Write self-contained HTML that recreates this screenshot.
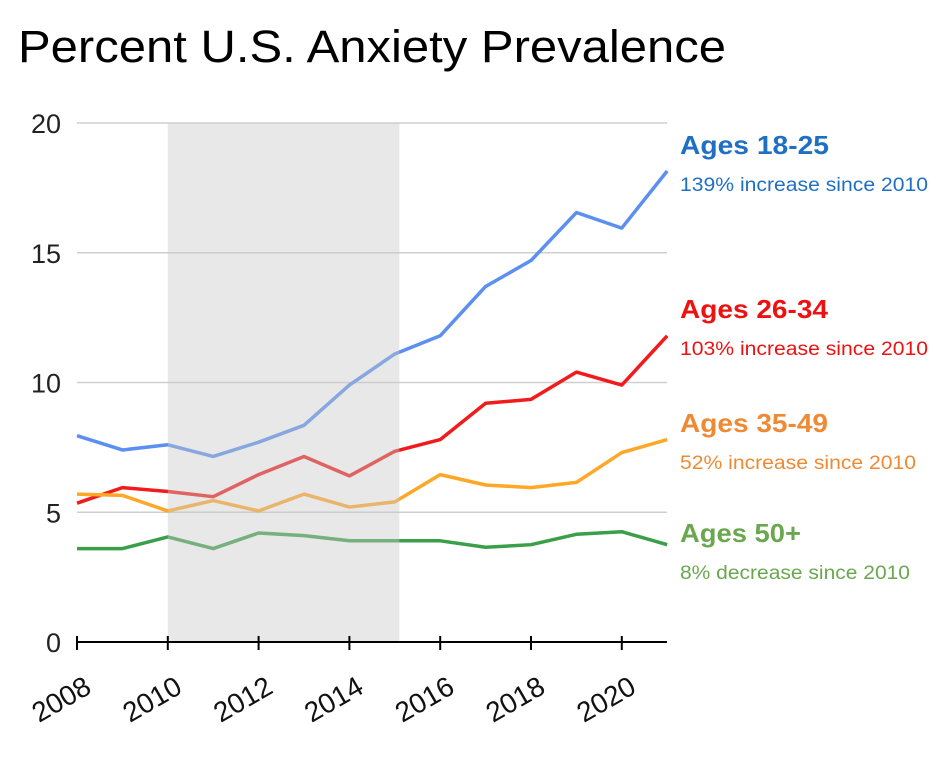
<!DOCTYPE html>
<html><head><meta charset="utf-8"><style>
body{margin:0;background:#fff;width:942px;height:754px;overflow:hidden;font-family:"Liberation Sans",sans-serif}
</style></head><body>
<svg id="chart" width="942" height="754" xmlns="http://www.w3.org/2000/svg">
<text x="18" y="62" font-size="45" textLength="708" lengthAdjust="spacingAndGlyphs" font-family="Liberation Sans, sans-serif" fill="#000">Percent U.S. Anxiety Prevalence</text>
<g id="grid"></g><g id="lines"></g><g id="shade"></g><g id="axes"></g><g id="legend"></g>
</svg>
<script>
const years=[2008,2009,2010,2011,2012,2013,2014,2015,2016,2017,2018,2019,2020,2021];
const ages1825=[7.95,7.4,7.6,7.15,7.7,8.35,9.9,11.1,11.8,13.7,14.7,16.55,15.95,18.15];
const ages2634=[5.35,5.95,5.8,5.6,6.45,7.15,6.4,7.35,7.8,9.2,9.35,10.4,9.9,11.8];
const ages3549=[5.7,5.65,5.05,5.45,5.05,5.7,5.2,5.4,6.45,6.05,5.95,6.15,7.3,7.8];
const ages50=[3.6,3.6,4.05,3.6,4.2,4.1,3.9,3.9,3.9,3.65,3.75,4.15,4.25,3.75];
const yTicks=[0,5,10,15,20];
const xTicks=[2008,2010,2012,2014,2016,2018,2020];
const shadeRange=[2010,2015.1];
const NS="http://www.w3.org/2000/svg";
const x=v=>77+(v-2008)*45.4;
const y=v=>642-v*25.95;
function mk(tag,attrs,parent){const e=document.createElementNS(NS,tag);for(const k in attrs)e.setAttribute(k,attrs[k]);document.getElementById(parent).appendChild(e);return e;}
yTicks.forEach(t=>{
  if(t>0){const l=mk('line',{x1:77,x2:667,y1:y(t),y2:y(t),stroke:'#cfcfcf','stroke-width':1.5},'grid');
  
  }
  const tx=mk('text',{x:61,y:y(t)+10,'font-size':27,'text-anchor':'end',fill:'#222'},'axes');tx.textContent=t;
  
  
});
const series=[[ages1825,'#5b8ff0','ages-18-25'],[ages2634,'#f21b1b','ages-26-34'],[ages3549,'#ffa726','ages-35-49'],[ages50,'#3a9f48','ages-50-plus']];
series.forEach(([d,c,n])=>{
  const p=mk('polyline',{points:d.map((v,i)=>x(years[i])+','+y(v)).join(' '),fill:'none',stroke:c,'stroke-width':3.5,'stroke-linejoin':'round'},'lines');
  
  
});
const sh=mk('rect',{x:x(shadeRange[0]),y:y(20),width:x(shadeRange[1])-x(shadeRange[0]),height:y(0)-y(20),fill:'rgb(200,200,200)','fill-opacity':0.42},'shade');


const ax=mk('line',{x1:77,x2:667,y1:y(0),y2:y(0),stroke:'#000','stroke-width':2},'axes');


xTicks.forEach(t=>{
  const tk=mk('line',{x1:x(t),x2:x(t),y1:y(0)-6,y2:y(0)+8,stroke:'#000','stroke-width':2},'axes');
  
  
  const ax0=x(t)+16, ay0=y(0)+50;
  const tx=mk('text',{x:ax0,y:ay0,'font-size':28,'text-anchor':'end',fill:'#111',transform:`rotate(-30 ${ax0} ${ay0})`},'axes');tx.textContent=t;
  
  
});
const legendTitles=['Ages 18-25','Ages 26-34','Ages 35-49','Ages 50+'];
const legendNotes=['139% increase since 2010','103% increase since 2010','52% increase since 2010','8% decrease since 2010'];
const legendColors=['#1f6fc4','#ee1111','#ee8a33','#6aa84f'];
const legendY=[154,318,432,542];
const titleW=[149,148,148,121];
const noteW=[248,248,236,230];
legendTitles.forEach((t,i)=>{
  const a=mk('text',{x:680,y:legendY[i],'font-size':26,'font-weight':'bold',fill:legendColors[i],textLength:titleW[i],lengthAdjust:'spacingAndGlyphs'},'legend');a.textContent=t;
  
  
  const b=mk('text',{x:680,y:legendY[i]+37,'font-size':19,fill:legendColors[i],textLength:noteW[i],lengthAdjust:'spacingAndGlyphs'},'legend');b.textContent=legendNotes[i];
  
  
});
</script>
</body></html>
